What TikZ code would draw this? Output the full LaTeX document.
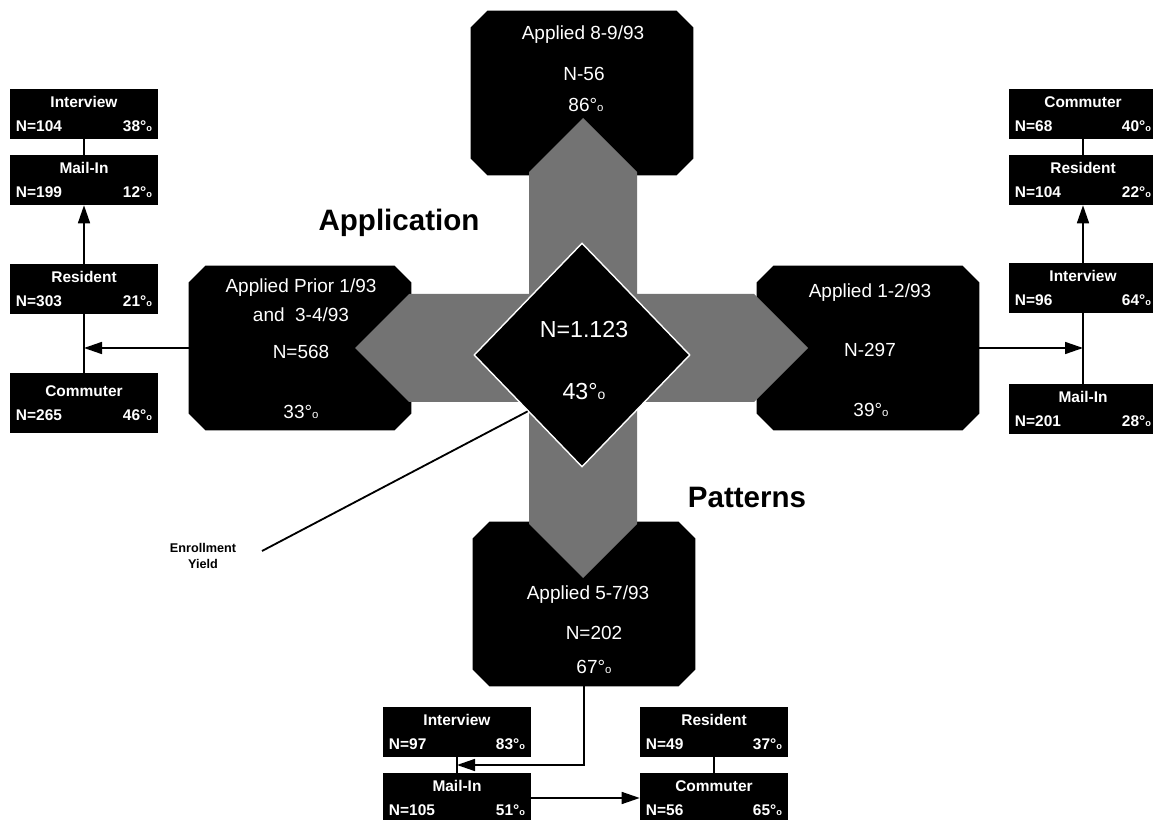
\documentclass[tikz,border=0pt]{standalone}
\usepackage{fontspec}
\setmainfont{Liberation Sans}
\usepackage{graphicx}
\usetikzlibrary{shapes.geometric,arrows.meta}

\newcommand{\pct}{°\scalebox{0.6}{o}}
\newcommand{\cellrows}[3]{\parbox{3.4cm}{\centering #1\\[5pt]\makebox[3.4cm]{#2\hfill #3}}}
% black box with cut corners round a placeholder node
\newcommand{\chamferbox}[1]{\fill ([xshift=0.42cm]#1.north west) -- ([xshift=-0.42cm]#1.north east)
  -- ([yshift=-0.42cm]#1.north east) -- ([yshift=0.42cm]#1.south east) -- ([xshift=-0.42cm]#1.south east)
  -- ([xshift=0.42cm]#1.south west) -- ([yshift=0.42cm]#1.south west) -- ([yshift=-0.42cm]#1.north west) -- cycle;}

\begin{document}
\begin{tikzpicture}[x=0.025cm,y=-0.025cm,
  cell/.style={fill=black,text=white,minimum width=3.7cm,minimum height=1.25cm,inner sep=0pt,font=\fontsize{11}{12.5}\selectfont\bfseries},
  period/.style={minimum width=5.55cm,minimum height=4.1cm,inner sep=0pt},
  boxtext/.style={text=white,font=\fontsize{13.5}{15}\selectfont},
  headline/.style={font=\fontsize{21}{24}\selectfont\bfseries},
  link/.style={line width=1.1pt},
  flow/.style={link,-{Triangle[length=4.5mm,width=3mm]}}]

\useasboundingbox (0,0) rectangle (1153,820);
\fill[white] (0,0) rectangle (1153,820);

% application periods
\node[period] (pAug) at (582,93) {};
\node[period] (pPrior) at (300,348) {};
\node[period] (pJan) at (868,348) {};
\node[period] (pMay) at (584,604) {};
\chamferbox{pAug}
\chamferbox{pPrior}
\chamferbox{pJan}
\chamferbox{pMay}

% hatched cross
\fill[black!55] (583,118) -- (637,172) -- (637,294) -- (754,294) -- (808,348) -- (754,402)
  -- (637,402) -- (637,524) -- (583,578) -- (529,524) -- (529,402) -- (409,402)
  -- (355,348) -- (409,294) -- (529,294) -- (529,172) -- cycle;

\node[diamond,fill=black,draw=white,line width=1pt,minimum width=5.4cm,minimum height=5.6cm,inner sep=0pt] (total) at (582,355) {};
\node[boxtext,font=\fontsize{16.5}{18}\selectfont] (totalN) at (584,330) {N=1.123};
\node[boxtext,font=\fontsize{16.5}{18}\selectfont] (totalP) at (584,392) {43\pct};

\node[boxtext] (augT) at (583,35) {Applied 8-9/93};
\node[boxtext] (augN) at (584,74) {N-56};
\node[boxtext] (augP) at (586,105) {86\pct};

\node[boxtext] (priorT) at (301,288) {Applied Prior 1/93};
\node[boxtext] (priorS) at (301,315) {and\ \ 3-4/93};
\node[boxtext] (priorN) at (301,352) {N=568};
\node[boxtext] (priorP) at (301,412) {33\pct};

\node[boxtext] (janT) at (870,293) {Applied 1-2/93};
\node[boxtext] (janN) at (870,350) {N-297};
\node[boxtext] (janP) at (871,410) {39\pct};

\node[boxtext] (mayT) at (588,595) {Applied 5-7/93};
\node[boxtext] (mayN) at (594,633) {N=202};
\node[boxtext] (mayP) at (594,667) {67\pct};

\node[headline] (appl) at (399,223) {Application};
\node[headline] (patt) at (747,497) {Patterns};

% left stack
\node[cell] (lInt) at (84,114) {\cellrows{Interview}{N=104}{38\pct}};
\node[cell] (lMail) at (84,180) {\cellrows{Mail-In}{N=199}{12\pct}};
\node[cell] (lRes) at (84,289) {\cellrows{Resident}{N=303}{21\pct}};
\node[cell,minimum height=1.5cm] (lCom) at (84,403) {\cellrows{Commuter}{N=265}{46\pct}};

\draw[link] (lInt.south) -- (lMail.north);
\draw[flow] (lRes.north) -- (lMail.south);
\draw[link] (lRes.south) -- (lCom.north);
\draw[flow] (pPrior.west) -- (pPrior.west -| lCom.north);

% right stack
\node[cell] (rCom) at (1083,114) {\cellrows{Commuter}{N=68}{40\pct}};
\node[cell] (rRes) at (1083,180) {\cellrows{Resident}{N=104}{22\pct}};
\node[cell] (rInt) at (1083,288) {\cellrows{Interview}{N=96}{64\pct}};
\node[cell] (rMail) at (1083,409) {\cellrows{Mail-In}{N=201}{28\pct}};

\draw[link] (rCom.south) -- (rRes.north);
\draw[flow] (rInt.north) -- (rRes.south);
\draw[link] (rInt.south) -- (rMail.north);
\draw[flow] (pJan.east) -- (pJan.east -| rMail.north);

% bottom stack
\node[cell] (bInt) at (457,732) {\cellrows{Interview}{N=97}{83\pct}};
\node[cell] (bMail) at (457,798) {\cellrows{Mail-In}{N=105}{51\pct}};
\node[cell] (bRes) at (714,732) {\cellrows{Resident}{N=49}{37\pct}};
\node[cell] (bCom) at (714,798) {\cellrows{Commuter}{N=56}{65\pct}};

\coordinate (bJoin) at (457,765);
\draw[link] (bInt.south) -- (bMail.north);
\draw[flow] (pMay.south) |- (bJoin);
\draw[flow] (bMail.east) -- (bCom.west);
\draw[link] (bRes.south) -- (bCom.north);

% enrollment yield
\node[font=\fontsize{9}{11}\selectfont\bfseries,align=center] (yield) at (203,556) {Enrollment\\Yield};
\coordinate (yieldEnd) at (262,551);
\draw[line width=1.3pt] (total.south west) -- (yieldEnd);

\end{tikzpicture}
\end{document}
